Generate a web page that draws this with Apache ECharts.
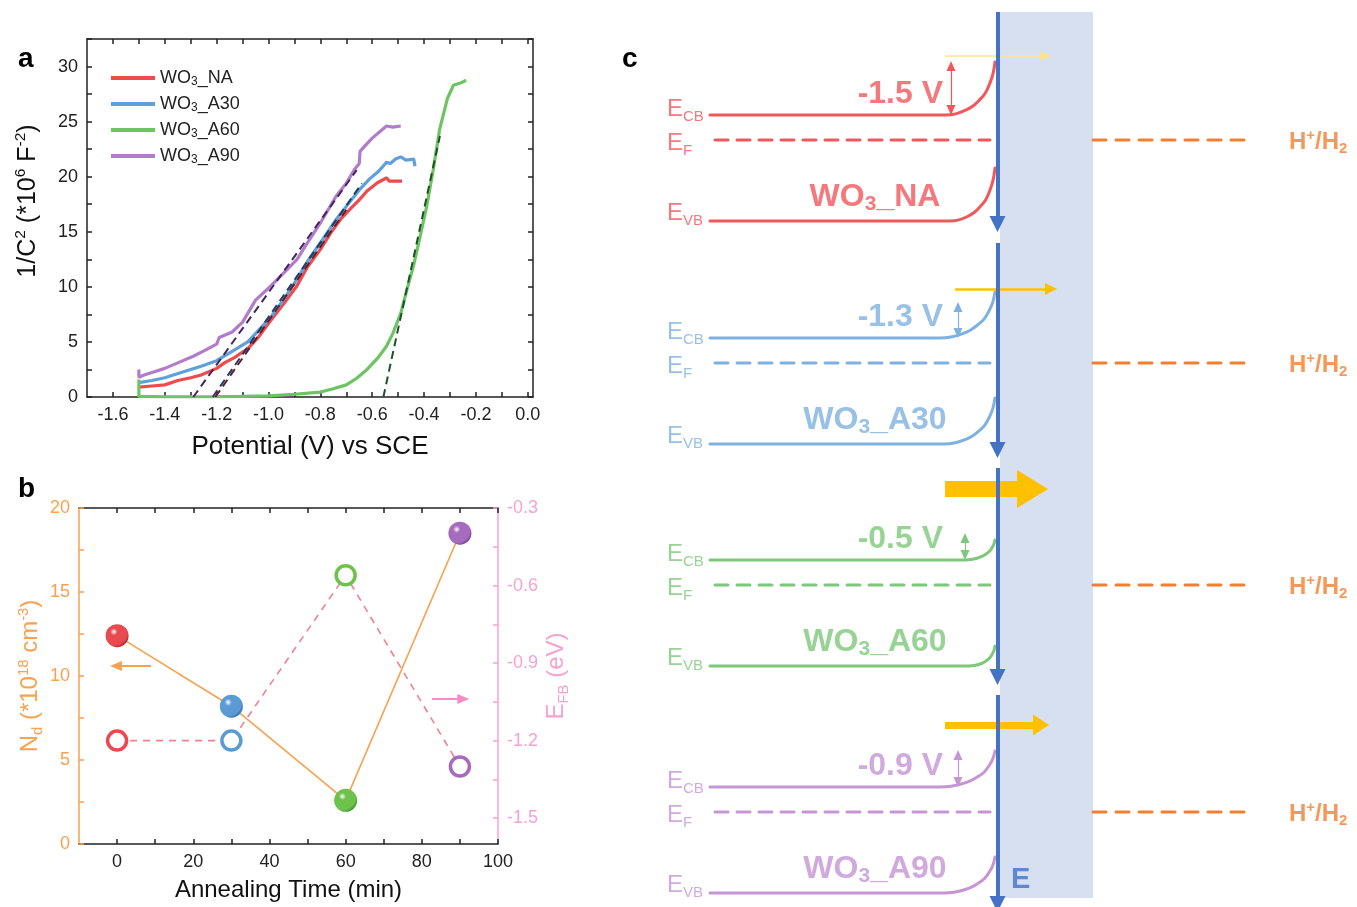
<!DOCTYPE html>
<html><head><meta charset="utf-8">
<script src="https://cdn.jsdelivr.net/npm/echarts@6/dist/echarts.min.js"></script>
<style>html,body{margin:0;padding:0;background:#fff}#c{width:1357px;height:907px}</style>
</head><body><div id="c"></div>
<script>
// ---------------- Panel a : Mott-Schottky data ----------------
const naX  = [-1.5,-1.45,-1.4,-1.35,-1.3,-1.26,-1.2,-1.17,-1.13,-1.08,-1.04,-0.99,-0.94,-0.89,-0.85,-0.8,-0.76,-0.72,-0.68,-0.65,-0.62,-0.58,-0.56,-0.545,-0.535,-0.5,-0.485];
const naY  = [0.9,1.0,1.1,1.5,1.75,2.0,2.6,3.1,3.6,4.4,5.4,7.0,8.5,10.1,11.8,13.4,14.9,16.2,17.2,17.9,18.7,19.45,19.7,19.9,19.6,19.6,19.6];
const a30X = [-1.5,-1.45,-1.4,-1.34,-1.26,-1.2,-1.15,-1.08,-1.04,-0.99,-0.94,-0.89,-0.85,-0.8,-0.74,-0.69,-0.65,-0.61,-0.58,-0.56,-0.545,-0.53,-0.51,-0.49,-0.47,-0.44,-0.435,-0.435];
const a30Y = [1.3,1.5,1.75,2.2,2.8,3.3,4.0,5.0,6.0,7.3,8.9,10.7,12.3,14.0,16.1,17.6,18.8,19.8,20.4,20.9,21.3,21.2,21.6,21.8,21.5,21.6,21.6,20.95];
const a60X = [-1.5,-1.5,-1.4,-1.3,-1.2,-1.1,-1.0,-0.9,-0.8,-0.75,-0.7,-0.66,-0.62,-0.58,-0.545,-0.52,-0.49,-0.47,-0.44,-0.415,-0.39,-0.365,-0.34,-0.31,-0.287,-0.26,-0.238];
const a60Y = [1.6,0.05,0.02,0.02,0.03,0.05,0.1,0.25,0.45,0.75,1.1,1.7,2.5,3.5,4.6,5.8,7.6,9.4,12.0,14.6,17.3,20.6,24.3,27.1,28.3,28.5,28.76];
const a90X = [-1.5,-1.5,-1.48,-1.44,-1.4,-1.35,-1.29,-1.24,-1.2,-1.19,-1.14,-1.1,-1.05,-0.99,-0.94,-0.89,-0.85,-0.8,-0.74,-0.7,-0.67,-0.65,-0.647,-0.62,-0.6,-0.57,-0.545,-0.52,-0.49];
const a90Y = [2.5,1.8,2.0,2.3,2.6,3.1,3.7,4.3,4.8,5.4,5.9,6.8,8.8,10.1,11.3,12.5,14.0,15.8,18.2,19.4,20.6,21.2,22.3,23.0,23.5,24.1,24.6,24.5,24.6];
// linear fits (dashed)
const fitNAX  = [-1.205,-0.70], fitNAY  = [0,17.0];
const fitA30X = [-1.215,-0.64], fitA30Y = [0,19.4];
const fitA60X = [-0.557,-0.339], fitA60Y = [0,23.7];
const fitA90X = [-1.29,-0.66], fitA90Y = [0,20.6];
const seriesNames = ['WO3_NA','WO3_A30','WO3_A60','WO3_A90'];
const potentialTicks = [-1.6,-1.4,-1.2,-1.0,-0.8,-0.6,-0.4,-0.2,0.0];
const capTicks = [0,5,10,15,20,25,30];

// ---------------- Panel b ----------------
const annealTime = [0,30,60,90];
const donorDensity = [12.4,8.2,2.6,18.5];
const flatBandPotential = [-1.2,-1.2,-0.56,-1.3];
const timeTicks = [0,20,40,60,80,100];
const ndTicks = [0,5,10,15,20];
const efbTicks = [-1.5,-1.2,-0.9,-0.6,-0.3];

// ---------------- Panel c (schematic) ----------------
const sampleNames = ['NA','A30','A60','A90'];
const bendLabels = ['-1.5 V','-1.3 V','-0.5 V','-0.9 V'];
const cbLevel = [115,338,560,787];
const bendHeight = [53,46,20,36];
const bendStart = [946,940,965,940];
const dblArrowTop = [54,36,27,37];
const dblArrowX = [951,958,965,958];
const transferY = [56,289,489,725];
const transferStart = [945,955,945,945];
const transferTip = [1051,1057,1048,1049];
const transferWidth = [1.5,2.5,16,7];
const transferHead = [[9,11],[12,12],[38,31],[21,16]];
const eArrowSegs = [[12,232],[243,458],[468,685],[695,912]];

const FONT = '"Liberation Sans", Arial, Helvetica, sans-serif';
const colA = ['#EE4B4E','#5FA0DA','#6DC463','#B17DCB'];
const colFit = ['#6A1E22','#1C3D6E','#1B5226','#43275F'];
const colB = ['#E84A50','#5B9BD5','#6CC24A','#A66BBE'];
const colBdark = ['#B0262C','#2F6CA8','#3E8E2A','#74408E'];
const bandColors = ['#F0585C','#7EB1DF','#7DC87A','#C595D4'];
const ORANGE = '#F8A14E', PINK = '#F7A2CF', PINKLINE = '#F2808F';
const hColor = '#F37E2E', eBlue = '#4472C4', yellow = '#FFC000';

function range(a,b,s){const r=[];for(let k=0;a+k*s<=b+1e-9;k++)r.push(Math.round((a+k*s)*1000)/1000);return r;}
function zip(xs,ys){return xs.map((x,i)=>[x,ys[i]]);}

const richSS = (fs, col) => ({
  sup:{fontSize:fs*0.62, verticalAlign:'top', lineHeight:fs*0.62, color:col, fontFamily:FONT},
  sub:{fontSize:fs*0.62, verticalAlign:'bottom', lineHeight:fs*0.55, color:col, fontFamily:FONT}
});

function axisBase(col){return {
  axisLine:{show:true,onZero:false,lineStyle:{color:col,width:1.5}},
  splitLine:{show:false}
};}
function ticks(vals,col){return {show:true,inside:true,length:5,customValues:vals,lineStyle:{color:col,width:1.5}};}

const xAxes = [
  Object.assign(axisBase('#222'),{gridIndex:0,type:'value',min:-1.7,max:0.02,position:'bottom',
    axisTick:ticks(range(-1.6,0,0.1),'#222'),
    axisLabel:{customValues:potentialTicks,formatter:v=>v.toFixed(1),fontSize:18,color:'#222',margin:9,fontFamily:FONT},
    name:'Potential (V) vs SCE',nameLocation:'middle',nameGap:37,nameTextStyle:{fontSize:26,color:'#111',fontFamily:FONT}}),
  Object.assign(axisBase('#222'),{gridIndex:0,type:'value',min:-1.7,max:0.02,position:'top',
    axisTick:ticks(range(-1.6,0,0.1),'#222'),axisLabel:{show:false}}),
  Object.assign(axisBase('#222'),{gridIndex:1,type:'value',min:-10,max:100,position:'bottom',
    axisTick:ticks(range(0,100,10),'#222'),
    axisLabel:{customValues:timeTicks,fontSize:18,color:'#222',margin:9,fontFamily:FONT},
    name:'Annealing Time (min)',nameLocation:'middle',nameGap:34,nameTextStyle:{fontSize:24,color:'#111',fontFamily:FONT}}),
  Object.assign(axisBase('#222'),{gridIndex:1,type:'value',min:-10,max:100,position:'top',
    axisTick:ticks(range(0,100,10),'#222'),axisLabel:{show:false}}),
  {gridIndex:2,type:'value',min:620,max:1357,show:false}
];
const yAxes = [
  Object.assign(axisBase('#222'),{gridIndex:0,type:'value',min:0,max:32.5,position:'left',
    axisTick:ticks(range(0,32.5,2.5),'#222'),
    axisLabel:{customValues:capTicks,fontSize:18,color:'#222',margin:9,fontFamily:FONT},
    name:'1/C{sup|2} (*10{sup|6} F{sup|-2})',nameLocation:'middle',nameGap:44,
    nameTextStyle:{fontSize:25,color:'#111',fontFamily:FONT,lineHeight:30,padding:[0,0,0,34],rich:richSS(25,'#111')}}),
  Object.assign(axisBase('#222'),{gridIndex:0,type:'value',min:0,max:32.5,position:'right',
    axisTick:ticks(range(0,32.5,2.5),'#222'),axisLabel:{show:false}}),
  Object.assign(axisBase(ORANGE),{gridIndex:1,type:'value',min:0,max:20,position:'left',
    axisTick:ticks(range(0,20,2.5),ORANGE),
    axisLabel:{customValues:ndTicks,fontSize:18,color:ORANGE,margin:9,fontFamily:FONT},
    name:'N{sub|d} (*10{sup|18} cm{sup|-3})',nameLocation:'middle',nameGap:34,
    nameTextStyle:{fontSize:24,color:ORANGE,fontFamily:FONT,lineHeight:29,rich:richSS(24,ORANGE)}}),
  Object.assign(axisBase(PINK),{gridIndex:1,type:'value',min:-1.6,max:-0.3,position:'right',
    axisTick:ticks(range(-1.5,-0.3,0.15),PINK),
    axisLabel:{customValues:efbTicks,formatter:v=>v.toFixed(1),fontSize:18,color:PINK,margin:9,fontFamily:FONT},
    name:'E{sub|FB} (eV)',nameLocation:'middle',nameGap:44,
    nameTextStyle:{fontSize:24,color:PINK,fontFamily:FONT,lineHeight:29,rich:richSS(24,PINK)}}),
  {gridIndex:2,type:'value',min:0,max:907,inverse:true,show:false}
];

// ---------- panel a series ----------
const curveX = [naX,a30X,a60X,a90X], curveY = [naY,a30Y,a60Y,a90Y];
const fitX = [fitNAX,fitA30X,fitA60X,fitA90X], fitY = [fitNAY,fitA30Y,fitA60Y,fitA90Y];
const series = [];
seriesNames.forEach((n,i)=>{
  series.push({name:n,type:'line',xAxisIndex:0,yAxisIndex:0,data:zip(curveX[i],curveY[i]),showSymbol:false,
    lineStyle:{color:colA[i],width:3.2},itemStyle:{color:colA[i]},z:2});
});
seriesNames.forEach((n,i)=>{
  series.push({name:n+'_fit',type:'line',xAxisIndex:0,yAxisIndex:0,data:zip(fitX[i],fitY[i]),showSymbol:false,
    lineStyle:{color:colFit[i],width:2,type:[8,5]},z:3});
});

// ---------- panel b series ----------
function sphere(i){return {type:'radial',x:0.36,y:0.33,r:0.72,colorStops:[
  {offset:0,color:'#ffffff'},{offset:0.22,color:colB[i]},{offset:0.8,color:colB[i]},{offset:1,color:colBdark[i]}]};}
series.push({name:'Nd',type:'line',xAxisIndex:2,yAxisIndex:2,z:4,
  data:annealTime.map((t,i)=>({value:[t,donorDensity[i]],itemStyle:{color:sphere(i)}})),
  symbol:'circle',symbolSize:23,lineStyle:{color:ORANGE,width:1.6},
  markLine:{silent:true,symbol:['none','triangle'],symbolSize:[10,12],label:{show:false},
    lineStyle:{color:ORANGE,width:2,type:'solid'},data:[[{coord:[8.9,10.6]},{coord:[-0.3,10.6]}]]}});
series.push({name:'Efb',type:'line',xAxisIndex:2,yAxisIndex:3,z:4,
  data:annealTime.map((t,i)=>({value:[t,flatBandPotential[i]],itemStyle:{color:'#fff',borderColor:colB[i],borderWidth:3.5}})),
  symbol:'circle',symbolSize:19,lineStyle:{color:PINKLINE,width:1.6,type:[7,6]},
  markLine:{silent:true,symbol:['none','triangle'],symbolSize:[10,12],label:{show:false},
    lineStyle:{color:'#F58CC8',width:2,type:'solid'},data:[[{coord:[82.7,-1.039]},{coord:[90.9,-1.039]}]]}});

// ---------- panel c series ----------
const bendShape = [[0,0],[0.2,0.022],[0.4,0.09],[0.55,0.17],[0.69,0.29],[0.8,0.41],[0.9,0.61],[0.96,0.78],[1,1]];
const interfaceX = 995, efOffset = 25, vbOffset = 106;
function bandLine(y0,i,f,dx){const pts=[[710,y0]];const x0=bendStart[i]+dx;const w=interfaceX-x0;
  bendShape.forEach(([sx,sy])=>pts.push([x0+sx*w,y0-sy*bendHeight[i]*f]));return pts;}
function lineS(data,col,w,type,smooth,z){return {type:'line',xAxisIndex:4,yAxisIndex:4,data,showSymbol:false,silent:true,
  smooth:smooth||false,lineStyle:{color:col,width:w,type,cap:'round'},z:z||3};}
series.push({type:'line',xAxisIndex:4,yAxisIndex:4,data:[[1000,12]],showSymbol:false,silent:true,z:1,
  markArea:{silent:true,itemStyle:{color:'#D6E0F1'},data:[[{coord:[1000,12]},{coord:[1093,898]}]]}});
const textItems = [];
function txt(x,y,formatter,align,rich){textItems.push({value:[x,y],label:{show:true,position:'inside',formatter,align,verticalAlign:'middle',rich}});}
sampleNames.forEach((s,i)=>{
  const col=bandColors[i], cb=cbLevel[i], ef=cb+efOffset, vb=cb+vbOffset;
  series.push(lineS(bandLine(cb,i,1,0),col,3,'solid',0.4));
  series.push(lineS(bandLine(vb,i,1,4),col,3,'solid',0.4));
  series.push(lineS([[715,ef],[990,ef]],col,3,[13,9]));
  series.push(lineS([[1093,ef],[1247,ef]],hColor,3,[13,10]));
  // band bending double arrow
  series.push({type:'line',xAxisIndex:4,yAxisIndex:4,data:[[dblArrowX[i],cb]],showSymbol:false,silent:true,z:5,
    markLine:{silent:true,symbol:['triangle','triangle'],symbolSize:[9,10],label:{show:false},
      lineStyle:{color:col,width:1.2,type:'solid'},
      data:[[{coord:[dblArrowX[i],cb-5]},{coord:[dblArrowX[i],cb-dblArrowTop[i]+5]}]]}});
  // electron transfer arrow
  const hd=transferHead[i];
  series.push({type:'line',xAxisIndex:4,yAxisIndex:4,data:[[transferStart[i],transferY[i]]],showSymbol:false,silent:true,z:7,
    markLine:{silent:true,symbol:['none','triangle'],symbolSize:hd,label:{show:false},
      lineStyle:{color:i===0?'#FFE38A':yellow,width:transferWidth[i],type:'solid',opacity:1},
      data:[[{coord:[transferStart[i],transferY[i]]},{coord:[transferTip[i]-hd[1]/2,transferY[i]]}]]}});
  const eR={e:{fontSize:24,lineHeight:30,color:col,fontFamily:FONT},s:{fontSize:15,lineHeight:13,verticalAlign:'bottom',color:col,fontFamily:FONT}};
  txt(667,cb-6,'{e|E}{s|CB}','left',eR);
  txt(667,ef+3,'{e|E}{s|F}','left',eR);
  txt(667,vb-8,'{e|E}{s|VB}','left',eR);
  const bR={b:{fontSize:32,fontWeight:'bold',lineHeight:36,color:col,fontFamily:FONT},bs:{fontSize:21,fontWeight:'bold',lineHeight:16,verticalAlign:'bottom',color:col,fontFamily:FONT}};
  txt(943,cb-21,'{b|'+bendLabels[i]+'}','right',bR);
  txt(875,vb-24,'{b|WO}{bs|3}{b|_'+s+'}','center',bR);
  const hR={h:{fontSize:24,fontWeight:'bold',lineHeight:28,color:hColor,fontFamily:FONT},
    p:{fontSize:15,fontWeight:'bold',lineHeight:15,verticalAlign:'top',color:hColor,fontFamily:FONT},
    s:{fontSize:15,fontWeight:'bold',lineHeight:11,verticalAlign:'bottom',color:hColor,fontFamily:FONT}};
  txt(1289,ef+2,'{h|H}{p|+}{h|/H}{s|2}','left',hR);
});
series.push({type:'line',xAxisIndex:4,yAxisIndex:4,data:[[997,12]],showSymbol:false,silent:true,z:8,
  markLine:{silent:true,symbol:['none','triangle'],symbolSize:[16,16],label:{show:false},
    lineStyle:{color:eBlue,width:4,type:'solid'},data:eArrowSegs.map(([a,b])=>[{coord:[997.5,a]},{coord:[997.5,b-8]}])}});
txt(1011,880,'{E|E}','left',{E:{fontSize:29,fontWeight:'bold',color:eBlue,fontFamily:FONT}});
series.push({type:'scatter',xAxisIndex:4,yAxisIndex:4,symbolSize:1,itemStyle:{color:'transparent'},silent:true,z:9,data:textItems});

const legendRich = {n:{fontSize:18,lineHeight:20,color:'#222',fontFamily:FONT},
  s:{fontSize:12,lineHeight:9,verticalAlign:'bottom',color:'#222',fontFamily:FONT}};
const option = {
  animation:false,
  backgroundColor:'#fff',
  title:[
    {text:'a',left:13,top:40,textStyle:{fontSize:28,fontWeight:'bold',color:'#000',fontFamily:FONT}},
    {text:'b',left:13,top:470,textStyle:{fontSize:28,fontWeight:'bold',color:'#000',fontFamily:FONT}},
    {text:'c',left:617,top:40,textStyle:{fontSize:28,fontWeight:'bold',color:'#000',fontFamily:FONT}}
  ],
  legend:{data:seriesNames,left:106,top:64,orient:'vertical',icon:'rect',itemWidth:44,itemHeight:4,itemGap:7,
    selectedMode:false,formatter:n=>'{n|WO}{s|3}{n|'+n.slice(3)+'}',textStyle:{rich:legendRich,fontSize:18,color:'#222'}},
  grid:[
    {left:87,top:39,width:446,height:358},
    {left:79,top:508,width:419,height:336},
    {left:620,top:0,width:737,height:907}
  ],
  xAxis:xAxes,
  yAxis:yAxes,
  series
};
const chart = echarts.init(document.getElementById('c'));
chart.setOption(option);
</script></body></html>
